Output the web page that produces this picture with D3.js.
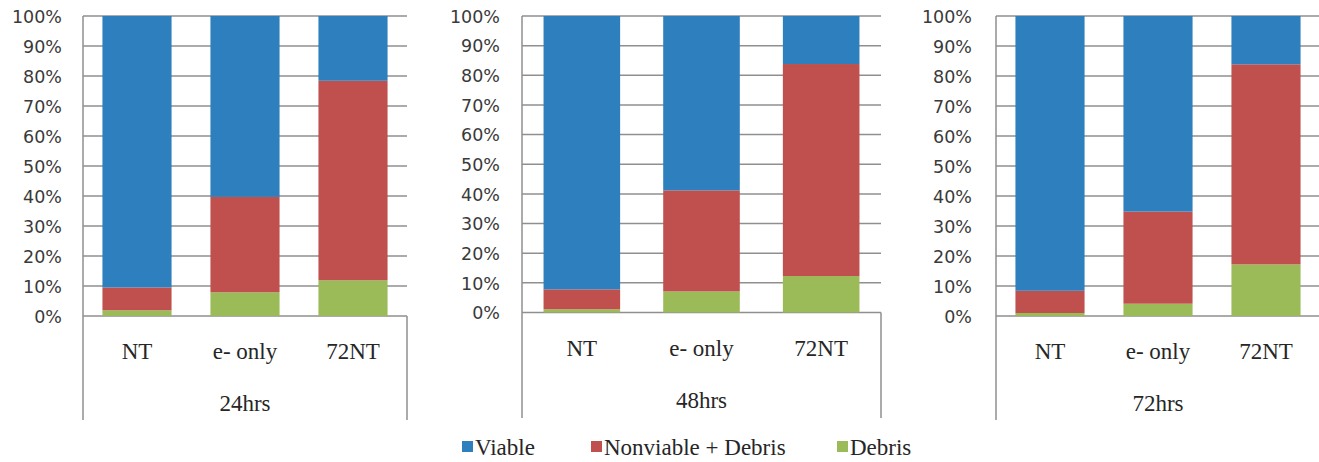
<!DOCTYPE html>
<html>
<head>
<meta charset="utf-8">
<script src="https://cdn.jsdelivr.net/npm/d3@7"></script>
</head>
<body style="margin:0">
<svg id="chart" width="1319" height="462" style="display:block"></svg>
<script>
// Categories and groups
const categories = ["NT", "e- only", "72NT"];
const groups = ["24hrs", "48hrs", "72hrs"];
const seriesNames = ["Viable", "Nonviable + Debris", "Debris"];
const yTicks = [0, 10, 20, 30, 40, 50, 60, 70, 80, 90, 100];

// Percent of events per stacked segment, one array per group, in category order
const debris24 = [1.9, 7.9, 11.9];
const nonviable24 = [7.6, 31.8, 66.5];
const viable24 = [90.5, 60.3, 21.6];

const debris48 = [1.1, 7.1, 12.3];
const nonviable48 = [6.7, 34.1, 71.5];
const viable48 = [92.2, 58.8, 16.2];

const debris72 = [1.0, 4.1, 17.2];
const nonviable72 = [7.4, 30.7, 66.7];
const viable72 = [91.6, 65.2, 16.1];

const groupData = [
  { debris: debris24, nonviable: nonviable24, viable: viable24 },
  { debris: debris48, nonviable: nonviable48, viable: viable48 },
  { debris: debris72, nonviable: nonviable72, viable: viable72 }
];

// Panel placement
const panels = [
  { left: 83, right: 407, top: 16, bottom: 316, boxBottom: 420, labelRight: 62 },
  { left: 522, right: 881, top: 16, bottom: 312.5, boxBottom: 418, labelRight: 500 },
  { left: 996, right: 1320, top: 16, bottom: 316, boxBottom: 420, labelRight: 972 }
];

const colors = { viable: "#2E7FBD", nonviable: "#C0504D", debris: "#9BBB59" };
const gridColor = "#8f8f8f";
const sansFont = "DejaVu Sans";
const serifFont = "Liberation Serif";
const serifSize = 23;

const svg = d3.select("#chart");
const stackKeys = ["debris", "nonviable", "viable"];

panels.forEach((p, gi) => {
  const d = groupData[gi];
  const rows = categories.map((c, i) => ({
    category: c,
    debris: d.debris[i],
    nonviable: d.nonviable[i],
    viable: d.viable[i]
  }));

  const x = d3.scaleBand()
    .domain(categories)
    .range([p.left, p.right])
    .paddingInner(0.36)
    .paddingOuter(0.18);

  const y = d3.scaleLinear().domain([0, 100]).range([p.bottom, p.top]);

  const g = svg.append("g");

  // horizontal gridlines
  g.append("g")
    .selectAll("line")
    .data(yTicks)
    .join("line")
    .attr("x1", p.left)
    .attr("x2", p.right)
    .attr("y1", t => y(t))
    .attr("y2", t => y(t))
    .attr("stroke", gridColor)
    .attr("stroke-width", 1.5);

  // stacked bars
  const stacked = d3.stack().keys(stackKeys)(rows);
  g.append("g")
    .selectAll("g")
    .data(stacked)
    .join("g")
    .attr("fill", s => colors[s.key])
    .selectAll("rect")
    .data(s => s)
    .join("rect")
    .attr("x", v => x(v.data.category))
    .attr("width", x.bandwidth())
    .attr("y", v => y(v[1]))
    .attr("height", v => y(v[0]) - y(v[1]));

  // y axis labels
  const yAxis = d3.axisLeft(y)
    .tickValues(yTicks)
    .tickFormat(t => t + "%")
    .tickSize(0)
    .tickPadding(p.left - p.labelRight);
  const ya = g.append("g")
    .attr("transform", `translate(${p.left},0)`)
    .call(yAxis);
  ya.select(".domain").remove();
  ya.selectAll("text")
    .attr("font-family", sansFont)
    .attr("font-size", 17.5)
    .attr("fill", "#3a3a3a")
    .attr("dy", "0.36em");

  // axis frame: left axis and right box edge below the baseline
  g.append("line")
    .attr("x1", p.left).attr("x2", p.left)
    .attr("y1", p.top).attr("y2", p.boxBottom)
    .attr("stroke", gridColor).attr("stroke-width", 1.5);
  g.append("line")
    .attr("x1", p.right).attr("x2", p.right)
    .attr("y1", p.bottom).attr("y2", p.boxBottom)
    .attr("stroke", gridColor).attr("stroke-width", 1.5);

  // category labels
  const xAxis = d3.axisBottom(x).tickSize(0).tickPadding(0);
  const xa = g.append("g")
    .attr("transform", `translate(0,${p.bottom})`)
    .call(xAxis);
  xa.select(".domain").remove();
  xa.selectAll("text")
    .attr("font-family", serifFont)
    .attr("font-size", serifSize)
    .attr("fill", "#262626")
    .attr("y", 43)
    .attr("dy", null);

  // group label
  g.append("text")
    .attr("font-family", serifFont)
    .attr("font-size", serifSize)
    .attr("x", (p.left + p.right) / 2)
    .attr("y", p.bottom + 95)
    .attr("text-anchor", "middle")
    .attr("fill", "#262626")
    .text(groups[gi]);
});

// Legend
const legendItems = [
  { name: seriesNames[0], key: "viable", x: 462 },
  { name: seriesNames[1], key: "nonviable", x: 591 },
  { name: seriesNames[2], key: "debris", x: 837 }
];
const li = svg.append("g").selectAll("g")
  .data(legendItems)
  .join("g")
  .attr("transform", dd => `translate(${dd.x},0)`);
li.append("rect")
  .attr("x", 0).attr("y", 441)
  .attr("width", 11).attr("height", 11)
  .attr("fill", dd => colors[dd.key]);
li.append("text")
  .attr("font-family", serifFont)
  .attr("font-size", serifSize)
  .attr("x", 13)
  .attr("y", 455)
  .attr("fill", "#262626")
  .text(dd => dd.name);
</script>
</body>
</html>
